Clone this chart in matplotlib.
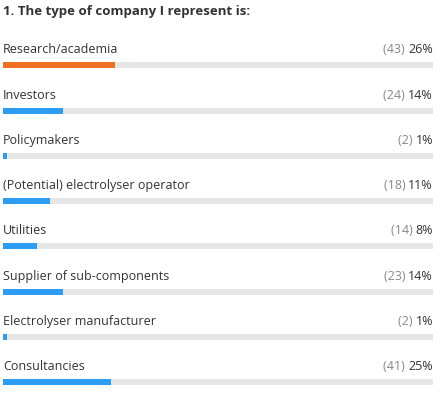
import matplotlib
matplotlib.use('Agg')
import matplotlib.pyplot as plt

title = '1. The type of company I represent is:'
categories = ['Research/academia', 'Investors', 'Policymakers',
              '(Potential) electrolyser operator', 'Utilities',
              'Supplier of sub-components', 'Electrolyser manufacturer',
              'Consultancies']
counts = [43, 24, 2, 18, 14, 23, 2, 41]
percents = [26, 14, 1, 11, 8, 14, 1, 25]

orange = '#f07023'
blue = '#2d9cf4'
track = '#e6e6e6'

plt.rcParams['font.family'] = ['Open Sans', 'DejaVu Sans']

fig = plt.figure(figsize=(4.4, 3.98), dpi=100)
fig.patch.set_facecolor('white')
# axes spans the bar track horizontally, y in pixels from the top
ax = fig.add_axes([3 / 440, 0, 430 / 440, 1])
ax.set_xlim(0, 100)
ax.set_ylim(398, 0)
ax.axis('off')

first_bar = 65.3
step = 45.25
bar_h = 6

for i, (cat, n, p) in enumerate(zip(categories, counts, percents)):
    y = first_bar + i * step
    ax.barh(y, 100, height=bar_h, color=track, zorder=1)
    ax.barh(y, p, height=bar_h, color=orange if i == 0 else blue, zorder=2)
    ax.text(0, y - 15.5, cat, fontsize=9, color='#333333', va='center', ha='left')
    pct = ax.text(100, y - 15.5, f'{p}%', fontsize=9, color='#333333',
                  va='center', ha='right')
    # count sits just left of the percentage
    ax.annotate(f'({n}) ', xy=(0, 0.5), xycoords=pct, fontsize=9,
                color='#888888', va='center', ha='right')

ax.text(0, 12, title, fontsize=9.5, fontweight='bold', color='#333333',
        va='center', ha='left', clip_on=False)

fig.savefig('out.png', dpi=100, facecolor='white')
